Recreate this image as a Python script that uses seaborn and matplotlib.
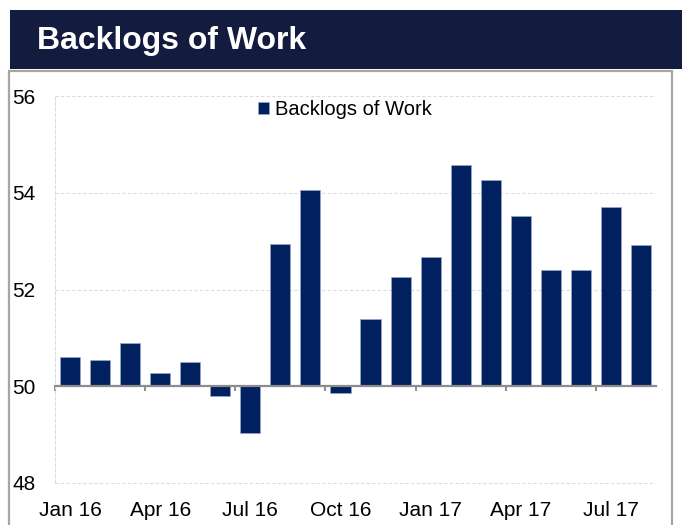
import matplotlib
import matplotlib.pyplot as plt
import pandas as pd
import seaborn as sns
from matplotlib.patches import Rectangle
from matplotlib.ticker import FuncFormatter

matplotlib.use("Agg")

# ── Data ──────────────────────────────────────────────────────────────────────

months = ["Jan 16", "Feb 16", "Mar 16", "Apr 16", "May 16", "Jun 16", "Jul 16",
          "Aug 16", "Sep 16", "Oct 16", "Nov 16", "Dec 16", "Jan 17", "Feb 17",
          "Mar 17", "Apr 17", "May 17", "Jun 17", "Jul 17", "Aug 17"]
backlogs = [50.6, 50.54, 50.9, 50.27, 50.5, 49.8, 49.03, 52.95, 54.06, 49.87,
            51.38, 52.25, 52.68, 54.58, 54.27, 53.52, 52.4, 52.4, 53.71, 52.93]
label_months = ["Jan 16", "Apr 16", "Jul 16", "Oct 16", "Jan 17", "Apr 17", "Jul 17"]
y_ticks = [48, 50, 52, 54, 56]
BASE = 50  # bars hang off the 50 line

NAVY = "#002060"
BANNER = "#131b3f"
GRID = "#dcdcdc"
AXIS = "#8c8c8c"

sns.set_theme(style="white")
plt.rcParams["font.family"] = ["Liberation Sans", "DejaVu Sans"]
plt.rcParams["text.color"] = "black"

df = pd.DataFrame({"month": months, "diff": [v - BASE for v in backlogs]})

# ── Figure ────────────────────────────────────────────────────────────────────

fig = plt.figure(figsize=(6.82, 5.25), dpi=100)

# title banner + panel frame
fig.patches.append(Rectangle((10 / 682, 1 - 69 / 525), 1, 59 / 525,
                             transform=fig.transFigure, facecolor=BANNER,
                             edgecolor="none", zorder=0))
fig.patches.append(Rectangle((9 / 682, -0.01), 663 / 682, 1 - 71 / 525 + 0.01,
                             transform=fig.transFigure, facecolor="none",
                             edgecolor="#a6a6a6", linewidth=1.6, zorder=0))
fig.text(37 / 682, 1 - 41 / 525, "Backlogs of Work", color="white",
         fontsize=23, fontweight="bold", va="center", ha="left")

ax = fig.add_axes([55 / 682, 42 / 525, 601 / 682, 387 / 525])

sns.barplot(data=df, x="month", y="diff", color=NAVY, saturation=1, width=0.67,
            edgecolor="#9aa8c8", linewidth=0.5, label="Backlogs of Work", ax=ax)

ax.set_xlim(-0.5, len(months) - 0.5)
ax.set_ylim(y_ticks[0] - BASE, y_ticks[-1] - BASE)
ax.set_yticks([t - BASE for t in y_ticks])
ax.yaxis.set_major_formatter(FuncFormatter(lambda v, _: f"{v + BASE:.0f}"))
ax.tick_params(axis="y", length=0, pad=14, labelsize=15, labelcolor="black")
ax.set_xlabel("")
ax.set_ylabel("")

# dashed light gridlines, left edge dashed too
ax.grid(axis="y", color=GRID, linestyle=(0, (3, 2)), linewidth=0.8)
for gl in ax.get_ygridlines():
    gl.set_clip_on(False)
ax.set_axisbelow(True)
for side in ["top", "right"]:
    ax.spines[side].set_visible(False)
ax.spines["left"].set_color(GRID)
ax.spines["left"].set_linestyle((0, (3, 2)))
ax.spines["left"].set_linewidth(0.8)

# category axis sits on the 50 line, ticks between quarters
ax.spines["bottom"].set_position(("data", 0))
ax.spines["bottom"].set_color(AXIS)
ax.spines["bottom"].set_linewidth(1.6)
ax.set_xticks([i - 0.5 for i in range(0, 19, 3)])
ax.set_xticklabels([])
ax.tick_params(axis="x", direction="out", length=3.5, width=1.4, color=AXIS, bottom=True)

# month labels along the bottom of the plot
sec = ax.secondary_xaxis("bottom")
sec.set_xticks([months.index(m) for m in label_months])
sec.set_xticklabels(label_months)
sec.tick_params(length=0, pad=13, labelsize=15, labelcolor="black")
sec.spines["bottom"].set_visible(False)

ax.legend(loc="center", bbox_to_anchor=(0.482, 0.964), frameon=False,
          fontsize=14.5, handlelength=0.55, handleheight=0.55, handletextpad=0.3,
          borderpad=0, labelcolor="black")

fig.savefig("out.png", dpi=100)
plt.close(fig)
